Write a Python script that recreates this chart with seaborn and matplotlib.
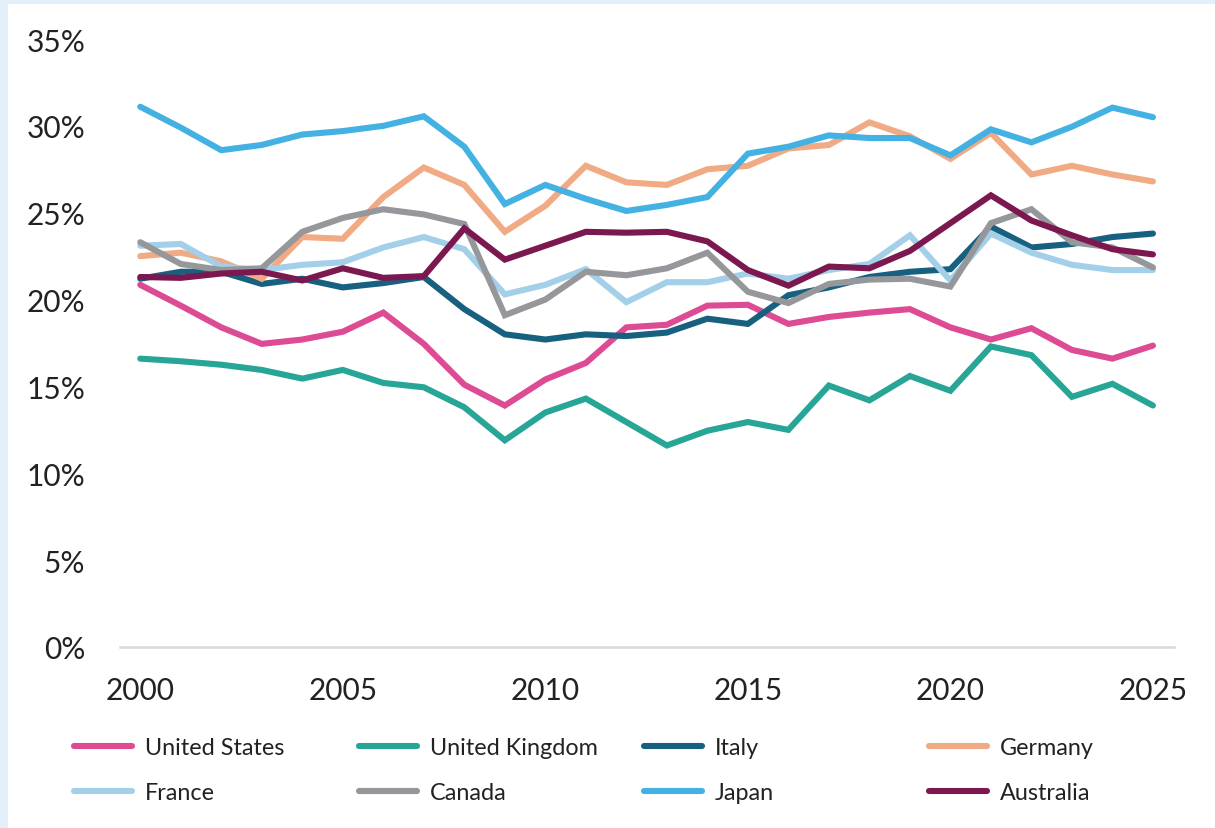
"""Savings rate by country, 2000-2025: multi-line chart."""
import matplotlib
matplotlib.use("Agg")
import matplotlib.pyplot as plt
from matplotlib.patches import Rectangle
from matplotlib.ticker import FuncFormatter, MultipleLocator
import numpy as np
import pandas as pd
import seaborn as sns

sns.set_style("white")
plt.rcParams["font.family"] = ["Lato", "DejaVu Sans"]

years = list(range(2000, 2026))

united_states = [20.85, 19.65, 18.4, 17.45, 17.7, 18.15, 19.25, 17.45, 15.1, 13.9,
                 15.4, 16.35, 18.4, 18.55, 19.65, 19.7, 18.6, 19.0, 19.25, 19.45,
                 18.4, 17.7, 18.35, 17.1, 16.6, 17.35]
united_kingdom = [16.6, 16.45, 16.25, 15.95, 15.45, 15.95, 15.2, 14.95, 13.8, 11.9,
                  13.5, 14.3, 12.95, 11.6, 12.45, 12.95, 12.5, 15.05, 14.2, 15.6,
                  14.75, 17.3, 16.8, 14.4, 15.15, 13.9]
italy = [21.2, 21.6, 21.6, 20.9, 21.2, 20.7, 20.95, 21.3, 19.45, 18.0,
         17.7, 18.0, 17.9, 18.1, 18.9, 18.6, 20.25, 20.7, 21.3, 21.6,
         21.75, 24.2, 23.0, 23.2, 23.6, 23.8]
germany = [22.5, 22.7, 22.2, 21.2, 23.6, 23.5, 25.9, 27.6, 26.6, 23.9,
           25.4, 27.7, 26.75, 26.6, 27.5, 27.7, 28.7, 28.9, 30.2, 29.4,
           28.1, 29.6, 27.2, 27.7, 27.2, 26.8]
france = [23.1, 23.2, 21.9, 21.7, 22.0, 22.15, 23.0, 23.6, 22.9, 20.3,
          20.85, 21.75, 19.85, 21.0, 21.0, 21.5, 21.2, 21.7, 22.05, 23.7,
          21.1, 23.8, 22.7, 22.0, 21.7, 21.7]
canada = [23.3, 22.05, 21.7, 21.8, 23.9, 24.7, 25.2, 24.9, 24.35, 19.1,
          20.0, 21.6, 21.4, 21.8, 22.7, 20.45, 19.8, 20.9, 21.15, 21.2,
          20.75, 24.4, 25.2, 23.3, 23.0, 21.85]
japan = [31.1, 29.9, 28.6, 28.9, 29.5, 29.7, 30.0, 30.55, 28.8, 25.5,
         26.6, 25.8, 25.1, 25.45, 25.9, 28.4, 28.8, 29.45, 29.3, 29.3,
         28.3, 29.8, 29.05, 29.95, 31.05, 30.5]
australia = [21.3, 21.25, 21.5, 21.6, 21.1, 21.8, 21.25, 21.35, 24.1, 22.3,
             23.1, 23.9, 23.85, 23.9, 23.35, 21.7, 20.8, 21.9, 21.8, 22.8,
             24.4, 26.0, 24.55, 23.7, 22.9, 22.6]

countries = ["United States", "United Kingdom", "Italy", "Germany",
             "France", "Canada", "Japan", "Australia"]
series = [united_states, united_kingdom, italy, germany,
          france, canada, japan, australia]
colors = ["#dc4b94", "#27a596", "#17607f", "#f0aa84",
          "#a3d0e8", "#96979a", "#44b1e3", "#7c1850"]

df = pd.DataFrame({
    "year": np.tile(years, len(countries)),
    "value": np.concatenate(series),
    "country": np.repeat(countries, len(years)),
})

W, H = 1215, 829
fig = plt.figure(figsize=(W / 100, H / 100), dpi=100)
fig.patch.set_facecolor("#e4f0f9")
# white card with the light blue strip left and top
fig.add_artist(Rectangle((8 / W, 0), 1 - 8 / W, 1 - 5 / H,
                         transform=fig.transFigure, facecolor="white",
                         edgecolor="none", zorder=0))

ax = fig.add_axes([120 / W, (H - 648) / H, (1174 - 120) / W, (648 - 40) / H])
ax.patch.set_alpha(0)

sns.lineplot(data=df, x="year", y="value", hue="country", hue_order=countries,
             palette=colors, linewidth=4.4, legend=False, ax=ax,
             solid_capstyle="round", solid_joinstyle="miter")

ax.set_xlim(1999.5, 2025.52)
ax.set_ylim(0, 35)
ax.xaxis.set_major_locator(MultipleLocator(5))
ax.yaxis.set_major_locator(MultipleLocator(5))
ax.yaxis.set_major_formatter(FuncFormatter(lambda v, _: f"{v:.0f}%"))
ax.set_xlabel("")
ax.set_ylabel("")
ax.tick_params(axis="both", length=0, labelsize=21.5, colors="#222222")
ax.tick_params(axis="y", pad=25)
ax.tick_params(axis="x", pad=21)
for side in ["top", "right", "left"]:
    ax.spines[side].set_visible(False)
ax.spines["bottom"].set_color("#d9d9d9")
ax.spines["bottom"].set_linewidth(1.8)
ax.grid(False)

# legend: 4 fixed-width columns, 2 rows
lines = ax.get_lines()
for j in range(4):
    idx = [j, j + 4]
    leg = fig.legend([lines[i] for i in idx], [countries[i] for i in idx],
                     loc="upper left",
                     bbox_to_anchor=((74 + 285 * j) / W, 1 - 738 / H),
                     frameon=False, fontsize=16.8, handlelength=2.5,
                     handletextpad=0.55, labelspacing=1.02, borderpad=0,
                     borderaxespad=0)
    for t in leg.get_texts():
        t.set_color("#222222")

fig.savefig("out.png", dpi=100, facecolor=fig.get_facecolor())
